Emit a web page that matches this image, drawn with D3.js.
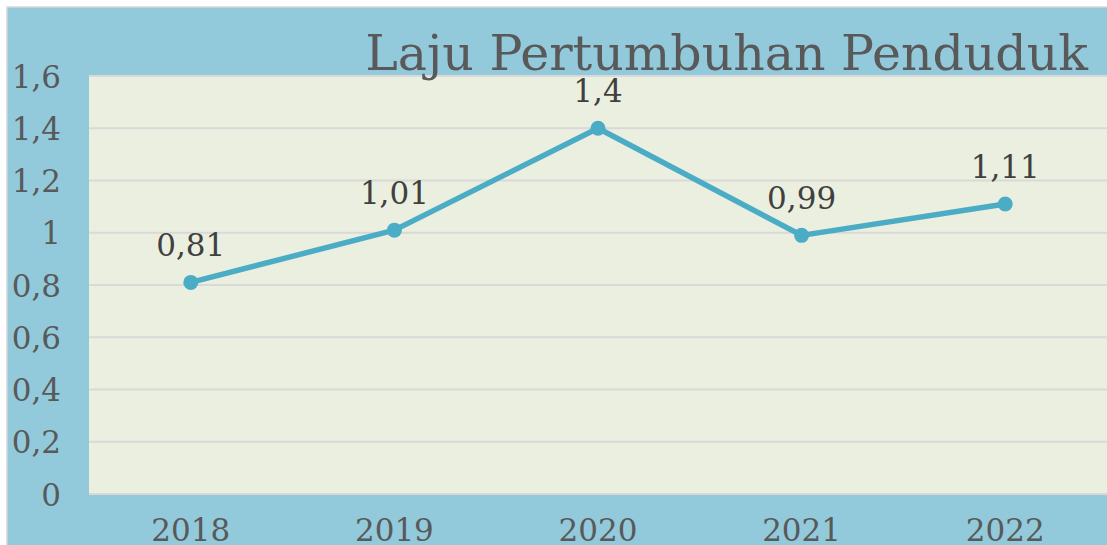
<!DOCTYPE html>
<html><head><meta charset="utf-8">
<script src="https://cdn.jsdelivr.net/npm/d3@7"></script>
<style>html,body{margin:0;padding:0;background:#fff;overflow:hidden}svg{display:block}</style>
</head><body>
<svg id="c" width="1107" height="545"></svg>
<script>
const title = "Laju Pertumbuhan Penduduk";
const years = ["2018","2019","2020","2021","2022"];
const values = [0.81, 1.01, 1.4, 0.99, 1.11];
const valueLabels = ["0,81","1,01","1,4","0,99","1,11"];
const yTicks = [0, 0.2, 0.4, 0.6, 0.8, 1, 1.2, 1.4, 1.6];

const W = 1107, H = 545;
const plot = {l: 89, r: 1107, t: 76, b: 494};
const font = "'DejaVu Serif', serif";
const svg = d3.select("#c");

// outer frame
svg.append("rect").attr("x",0).attr("y",0).attr("width",W).attr("height",H).attr("fill","#fff");
svg.append("rect").attr("x",7).attr("y",7).attr("width",W).attr("height",H).attr("fill","#92cadc")
  .attr("stroke","#d6d6d6").attr("stroke-width",1.5);

const x = d3.scaleBand().domain(years).range([plot.l, plot.r]);
const y = d3.scaleLinear().domain([0, 1.6]).range([plot.b, plot.t]);

svg.append("rect").attr("x",plot.l).attr("y",plot.t).attr("width",plot.r-plot.l).attr("height",plot.b-plot.t).attr("fill","#ebefdf");

// gridlines
svg.append("g").selectAll("line").data(yTicks).join("line")
  .attr("x1",plot.l).attr("x2",plot.r).attr("y1",d=>y(d)).attr("y2",d=>y(d))
  .attr("stroke","#d9d9d9").attr("stroke-width",2);

// y axis labels
const yAxis = d3.axisLeft(y).tickValues(yTicks).tickSize(0).tickPadding(0)
  .tickFormat(d => String(+d.toFixed(1)).replace(".", ","));
const ga = svg.append("g").attr("transform",`translate(61,0)`).call(yAxis);
ga.select(".domain").remove();
ga.selectAll("text").attr("font-family",font).attr("font-size",31).attr("fill","#595959").attr("dy","0.36em");

// x axis labels
const xAxis = d3.axisBottom(x).tickSize(0).tickPadding(0);
const gx = svg.append("g").attr("transform",`translate(0,${plot.b})`).call(xAxis);
gx.select(".domain").remove();
gx.selectAll("text").attr("font-family",font).attr("font-size",31).attr("fill","#595959").attr("dy",null).attr("y",47);

// title
svg.append("text").attr("x",1088).attr("y",70).attr("text-anchor","end")
  .attr("font-family",font).attr("font-size",49).attr("fill","#595959").text(title);

// line
const cx = d => x(d) + x.bandwidth()/2;
const line = d3.line().x((d,i)=>cx(years[i])).y(d=>y(d));
svg.append("path").datum(values).attr("d",line).attr("fill","none")
  .attr("stroke","#4bacc6").attr("stroke-width",5.5).attr("stroke-linejoin","round");
svg.append("g").selectAll("circle").data(values).join("circle")
  .attr("cx",(d,i)=>cx(years[i])).attr("cy",d=>y(d)).attr("r",7.5).attr("fill","#4bacc6");

// data labels
svg.append("g").selectAll("text").data(values).join("text")
  .attr("x",(d,i)=>cx(years[i])).attr("y",d=>y(d)-26).attr("text-anchor","middle")
  .attr("font-family",font).attr("font-size",31).attr("fill","#404040")
  .text((d,i)=>valueLabels[i]);
</script>
</body></html>
